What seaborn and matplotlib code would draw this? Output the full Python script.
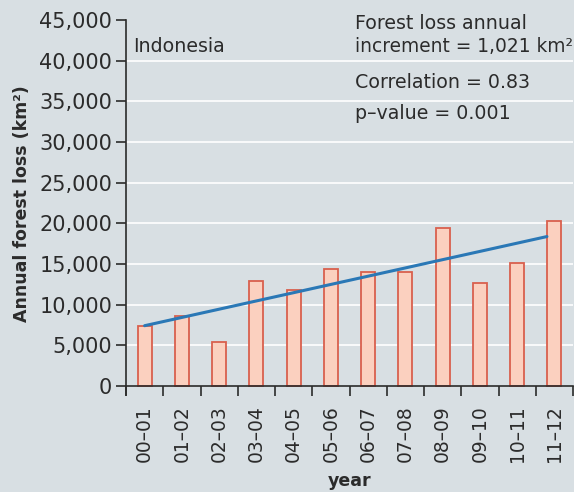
import numpy as np
import pandas as pd
import matplotlib
matplotlib.use("Agg")
import matplotlib.pyplot as plt
import seaborn as sns
from matplotlib.ticker import FuncFormatter, FixedLocator

# ---- data ----
years = ["00–01", "01–02", "02–03", "03–04", "04–05", "05–06",
         "06–07", "07–08", "08–09", "09–10", "10–11", "11–12"]
loss = [7400, 8600, 5400, 12900, 11800, 14400,
        14000, 14000, 19400, 12700, 15100, 20300]
y_ticks = [0, 5000, 10000, 15000, 20000, 25000, 30000, 35000, 40000, 45000]

df = pd.DataFrame({"year": years, "loss": loss})

BG = "#d8dfe3"
TXT = "#2b2b2b"

sns.set_theme(style="white")
plt.rcParams["font.family"] = ["DejaVu Sans"]

fig = plt.figure(figsize=(5.74, 4.92), dpi=100, facecolor=BG)
ax = fig.add_axes([126 / 574, 1 - 395 / 492, 447 / 574, 375 / 492])
ax.set_facecolor(BG)

# grid
for v in y_ticks[1:-1]:
    ax.axhline(v, color="white", lw=1.2, zorder=0)

sns.barplot(data=df, x="year", y="loss", ax=ax, width=0.38,
            color="#fbd0bf", edgecolor="#d9604e", linewidth=1.3,
            saturation=1, zorder=2)

# trend line (least squares fit over year index)
xi = np.arange(len(loss))
slope, intercept = np.polyfit(xi, loss, 1)
xl = np.array([0, len(loss) - 1.2])
sns.lineplot(x=xl, y=intercept + slope * xl, ax=ax, color="#2a78b6",
             lw=2.2, zorder=3)

ax.set_xlim(-0.5, len(years) - 0.5)
ax.set_ylim(-1100, 45000)

for s in ["top", "right"]:
    ax.spines[s].set_visible(False)
ax.spines["left"].set_color(TXT)
ax.spines["bottom"].set_color(TXT)
ax.spines["left"].set_linewidth(1.2)
ax.spines["bottom"].set_linewidth(1.2)
ax.spines["bottom"].set_position(("data", 0))

ax.set_yticks(y_ticks)
ax.yaxis.set_major_formatter(FuncFormatter(lambda v, p: f"{int(v):,}"))
ax.tick_params(axis="y", direction="out", length=7, width=1.2, color=TXT,
               labelsize=15, labelcolor=TXT, pad=3, left=True)

ax.set_xticks(range(len(years)))
ax.set_xticklabels(years, rotation=90)
ax.tick_params(axis="x", which="major", length=0, labelsize=13.5,
               labelcolor=TXT, pad=14)
ax.xaxis.set_minor_locator(FixedLocator(np.arange(-0.5, len(years), 1.0)))
ax.tick_params(axis="x", which="minor", direction="out", length=7,
               width=1.2, color=TXT, bottom=True)

ax.set_xlabel("")
ax.set_ylabel("")
fig.text(349.5 / 574, 1 - 481 / 492, "year", ha="center", va="center",
         fontsize=12.5, fontweight="bold", color=TXT)
fig.text(22 / 574, 1 - 204 / 492, "Annual forest loss (km²)", ha="center",
         va="center", rotation=90, fontsize=12.5, fontweight="bold", color=TXT)

# annotations
fs = 13.7
fig.text(133 / 574, 1 - 52 / 492, "Indonesia", fontsize=fs, color=TXT,
         va="baseline")
fig.text(355 / 574, 1 - 29 / 492, "Forest loss annual", fontsize=fs,
         color=TXT, va="baseline")
fig.text(355 / 574, 1 - 52 / 492, "increment = 1,021 km²", fontsize=13.4,
         color=TXT, va="baseline")
fig.text(355 / 574, 1 - 88 / 492, "Correlation = 0.83", fontsize=fs,
         color=TXT, va="baseline")
fig.text(355 / 574, 1 - 119 / 492, "p–value = 0.001", fontsize=fs,
         color=TXT, va="baseline")

fig.savefig("out.png", dpi=100, facecolor=BG)
